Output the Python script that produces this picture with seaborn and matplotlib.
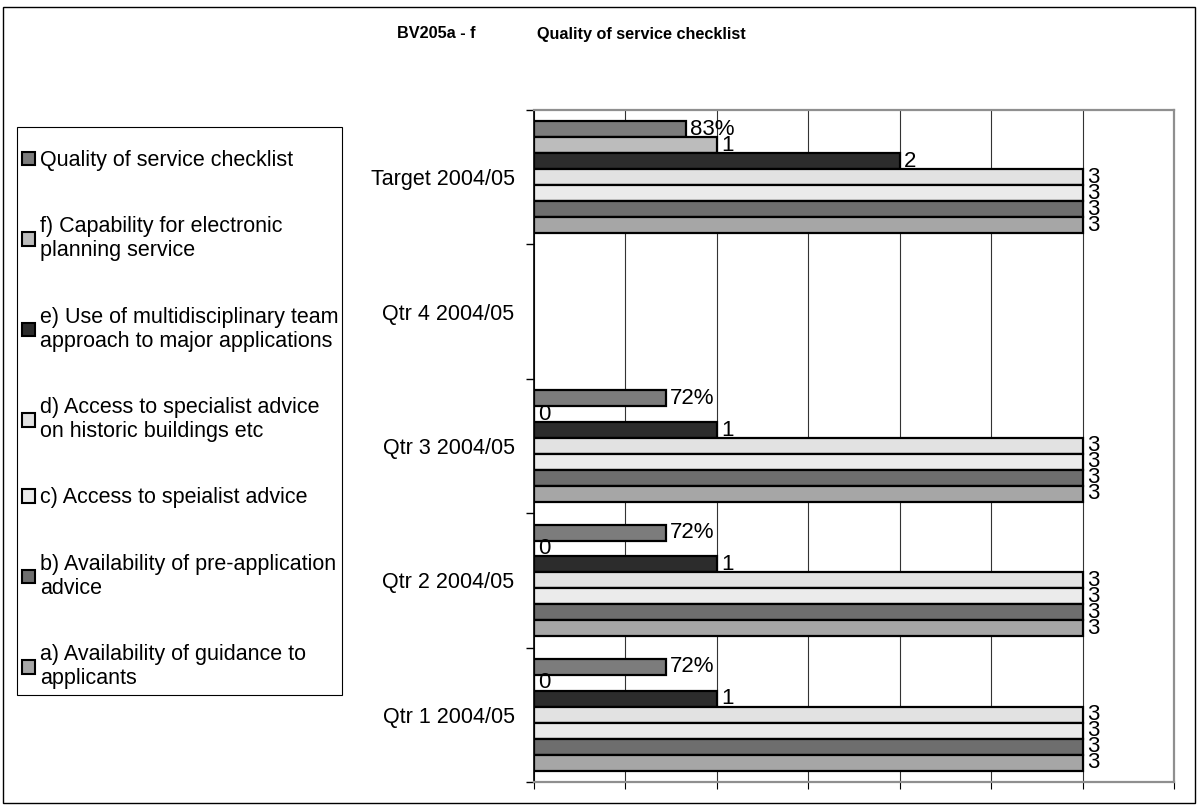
import matplotlib
matplotlib.use("Agg")
import matplotlib.pyplot as plt
from matplotlib.patches import Patch, Rectangle
from matplotlib.ticker import MultipleLocator, FixedLocator
import numpy as np
import pandas as pd
import seaborn as sns

# Categories, top to bottom as drawn
periods = ["Target 2004/05", "Qtr 4 2004/05", "Qtr 3 2004/05",
           "Qtr 2 2004/05", "Qtr 1 2004/05"]

series = [
    "Quality of service checklist",
    "f) Capability for electronic\nplanning service",
    "e) Use of multidisciplinary team\napproach to major applications",
    "d) Access to specialist advice\non historic buildings etc",
    "c) Access to speialist advice",
    "b) Availability of pre-application\nadvice",
    "a) Availability of guidance to\napplicants",
]

# Values per series, in the order of `periods` (Qtr 4 has no data yet)
checklist = [0.83, np.nan, 0.72, 0.72, 0.72]
f_vals = [1, np.nan, 0, 0, 0]
e_vals = [2, np.nan, 1, 1, 1]
d_vals = [3, np.nan, 3, 3, 3]
c_vals = [3, np.nan, 3, 3, 3]
b_vals = [3, np.nan, 3, 3, 3]
a_vals = [3, np.nan, 3, 3, 3]

colors = ["#7c7c7c", "#bcbcbc", "#2c2c2c", "#e2e2e2", "#ebebeb", "#6e6e6e", "#a6a6a6"]

all_vals = [checklist, f_vals, e_vals, d_vals, c_vals, b_vals, a_vals]
rows = []
for name, vals in zip(series, all_vals):
    for p, v in zip(periods, vals):
        rows.append({"period": p, "series": name, "value": v})
df = pd.DataFrame(rows).dropna()

sns.set_theme(style="white")
plt.rcParams["font.family"] = ["Liberation Sans", "DejaVu Sans"]

W, H = 1198, 807
fig = plt.figure(figsize=(W / 100, H / 100), dpi=100)
ax = fig.add_axes([534 / W, 1 - 782 / H, 640 / W, 672 / H])

sns.barplot(data=df, x="value", y="period", hue="series", order=periods,
            hue_order=series, palette=colors, saturation=1, width=0.83,
            edgecolor="black", linewidth=1.6, orient="h", legend=False,
            errorbar=None, ax=ax)

# value labels at the bar ends
for i, cont in enumerate(ax.containers):
    if i == 0:
        labels = [f"{v * 100:.0f}%" for v in cont.datavalues]
    else:
        labels = [f"{v:.0f}" for v in cont.datavalues]
    ax.bar_label(cont, labels=labels, padding=3, fontsize=16, color="black")

ax.set_xlim(0, 3.5)
ax.set_ylim(len(periods) - 0.5, -0.5)
ax.xaxis.set_major_locator(MultipleLocator(0.5))
ax.set_xticklabels([])
ax.set_xlabel("")
ax.set_ylabel("")
ax.grid(axis="x", color="#333333", linewidth=0.8)
ax.set_axisbelow(True)

ax.yaxis.set_minor_locator(FixedLocator(np.arange(-0.5, len(periods), 1)))
ax.tick_params(axis="y", which="major", length=0, pad=14, labelsize=15.5,
               labelcolor="black")
ax.tick_params(axis="y", which="minor", left=True, length=6, width=1, color="black")
ax.tick_params(axis="x", which="major", bottom=True, length=5, width=0.8, color="black")

ax.spines["left"].set_color("black")
ax.spines["left"].set_linewidth(1.2)
for s in ["top", "right", "bottom"]:
    ax.spines[s].set_color("#8f8f8f")
    ax.spines[s].set_linewidth(1.6)
    ax.spines[s].set_linestyle((0, (1, 1)))

fig.text(397 / W, 1 - 34 / H, "BV205a - f", fontsize=11.7, fontweight="bold",
         va="center", color="black")
fig.text(537 / W, 1 - 34 / H, "Quality of service checklist", fontsize=11.7,
         fontweight="bold", va="center", color="black")

handles = [Patch(facecolor=c, edgecolor="black", linewidth=1.5) for c in colors]
leg = fig.legend(handles, series, loc="upper left",
                 bbox_to_anchor=(22 / W, 1 - 150 / H), fontsize=15.5,
                 frameon=False, handlelength=0.6, handleheight=0.6,
                 handletextpad=0.25, labelspacing=2.1, borderpad=0,
                 borderaxespad=0, labelcolor="black")

# legend box and outer chart border
fig.patches.append(Rectangle((17 / W, 1 - 695 / H), 325 / W, 568 / H,
                             transform=fig.transFigure, fill=False,
                             edgecolor="black", linewidth=0.8))
fig.patches.append(Rectangle((3 / W, 4 / H), 1 - 6 / W, 1 - 11 / H,
                             transform=fig.transFigure, fill=False,
                             edgecolor="black", linewidth=1))

fig.savefig("out.png", dpi=100)
